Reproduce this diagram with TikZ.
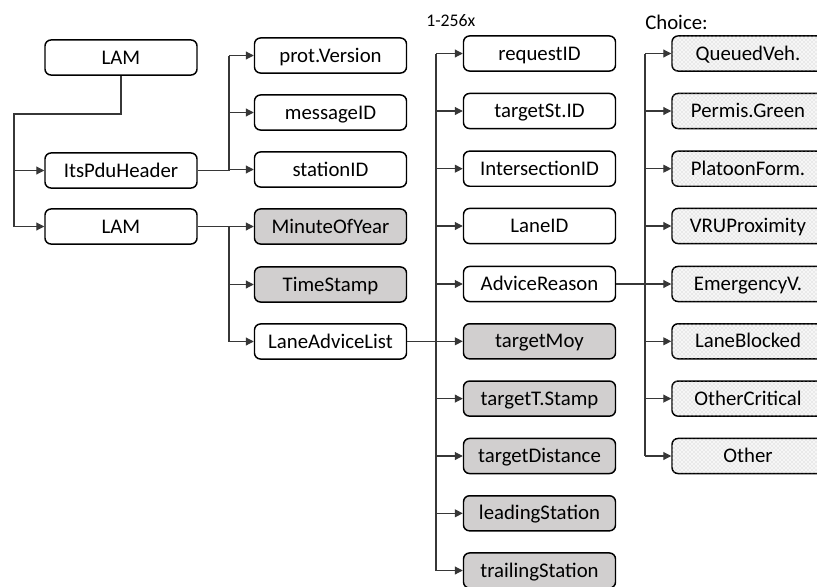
\documentclass[tikz,border=0pt]{standalone}
\usepackage{fontspec}
\setmainfont{Carlito}
\usetikzlibrary{arrows.meta,patterns}
\definecolor{boxgray}{RGB}{209,207,207}
\definecolor{dotback}{RGB}{246,246,246}
\definecolor{linegray}{RGB}{55,55,55}
\tikzset{
  field/.style={draw=black, line width=1.1pt, rounded corners=4.5pt, fill=white,
    minimum width=114pt, minimum height=26.3pt, inner sep=0pt,
    text height=12pt, text depth=2.2pt,
    font=\fontsize{15.6}{18}\selectfont},
  shaded/.style={field, fill=boxgray},
  choicebox/.style={field, fill=dotback, postaction={pattern=crosshatch dots, pattern color=gray!50}},
  link/.style={draw=linegray, line width=0.8pt},
  feed/.style={link, -{Triangle[length=6pt,width=6pt]}, shorten >=0pt},
  note/.style={anchor=base west, inner sep=0pt}
}
\begin{document}
\begin{tikzpicture}[x=0.75pt, y=-0.75pt]
\useasboundingbox (0,0) rectangle (817,586);

% top level
\node[field] (lam)  at (121,57.5)  {LAM};
\node[field] (its)  at (121,170.5) {ItsPduHeader};
\node[field] (lam2) at (121,226.5) {LAM};

% second level
\node[field]  (prot)  at (330.5,55.5)  {prot.Version};
\node[field]  (msg)   at (330.5,112.5) {messageID};
\node[field]  (stat)  at (330.5,169.5) {stationID};
\node[shaded] (moy)   at (330.5,226.5) {MinuteOfYear};
\node[shaded] (ts)    at (330.5,284.5) {TimeStamp};
\node[field]  (list)  at (330.5,341.5) {LaneAdviceList};

% lane advice fields
\node[field]  (req)   at (539.5,53.5)  {requestID};
\node[field]  (tsid)  at (539.5,111)   {targetSt.ID};
\node[field]  (isid)  at (539.5,168.7) {IntersectionID};
\node[field]  (lane)  at (539.5,226)   {LaneID};
\node[field]  (adv)   at (539.5,284)   {AdviceReason};
\node[shaded] (tmoy)  at (539.5,341.3) {targetMoy};
\node[shaded] (tstmp) at (539.5,398.6) {targetT.Stamp};
\node[shaded] (tdist) at (539.5,456)   {targetDistance};
\node[shaded] (lead)  at (539.5,513.3) {leadingStation};
\node[shaded] (trail) at (539.5,570.5) {trailingStation};

% advice reason choices
\node[choicebox] (c1) at (748,53.5)  {QueuedVeh.};
\node[choicebox] (c2) at (748,111)   {Permis.Green};
\node[choicebox] (c3) at (748,168.7) {PlatoonForm.};
\node[choicebox] (c4) at (748,226)   {VRUProximity};
\node[choicebox] (c5) at (748,284)   {EmergencyV.};
\node[choicebox] (c6) at (748,341.3) {LaneBlocked};
\node[choicebox] (c7) at (748,398.6) {OtherCritical};
\node[choicebox] (c8) at (748,456)   {Other};

% annotations
\node[note, font=\fontsize{13.3}{15}\selectfont] (rep) at (426,26) {1-256x};
\node[note, font=\fontsize{15.6}{18}\selectfont] (cho) at (645,29.5) {Choice:};

% bus coordinates
\coordinate (b0) at (14,114);
\coordinate (b1) at (229,0);
\coordinate (b2) at (436,0);
\coordinate (b3) at (645,0);

% LAM -> header / body
\draw[link] (lam.south) |- (b0) -- (b0 |- lam2);
\draw[feed] (b0 |- its) -- (its.west);
\draw[feed] (b0 |- lam2) -- (lam2.west);

% header fields
\draw[link] (its.east) -- (b1 |- its) -- (b1 |- prot);
\foreach \n in {prot,msg,stat} \draw[feed] (b1 |- \n) -- (\n.west);

% body fields
\draw[link] (lam2.east) -- (b1 |- lam2) -- (b1 |- list);
\foreach \n in {moy,ts,list} \draw[feed] (b1 |- \n) -- (\n.west);

% lane advice list entries
\draw[link] (list.east) -- (b2 |- list);
\draw[link] (b2 |- req) -- (b2 |- trail);
\foreach \n in {req,tsid,isid,lane,adv,tmoy,tstmp,tdist,lead,trail} \draw[feed] (b2 |- \n) -- (\n.west);

% advice reason choices
\draw[link] (adv.east) -- (b3 |- adv);
\draw[link] (b3 |- c1) -- (b3 |- c8);
\foreach \n in {c1,c2,c3,c4,c5,c6,c7,c8} \draw[feed] (b3 |- \n) -- (\n.west);
\end{tikzpicture}
\end{document}
